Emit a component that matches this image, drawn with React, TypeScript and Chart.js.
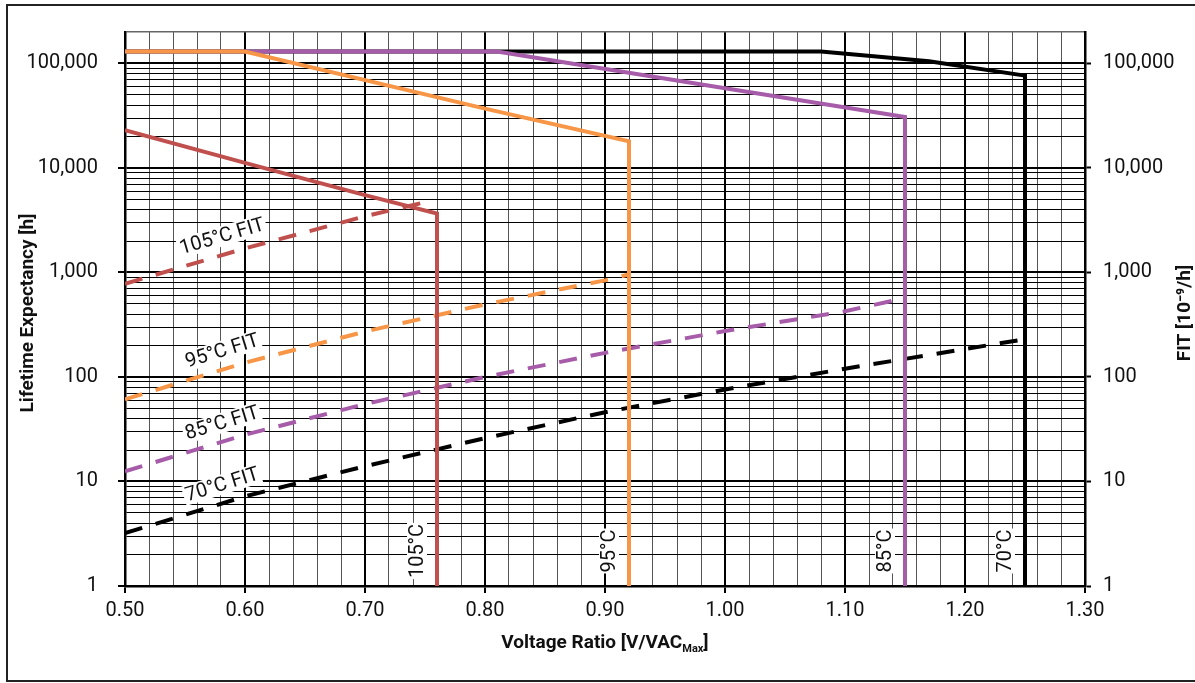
import React, { useEffect, useRef } from 'react';
import { Chart, registerables } from 'chart.js';

Chart.register(...registerables);

// ---------- axis ranges ----------
const X_MIN = 0.5;
const X_MAX = 1.3;
const X_STEP = 0.02;
const Y_MIN = 1;
const Y_MAX = 200000;

// ---------- lifetime expectancy (solid, left axis) ----------
const life105X = [0.5, 0.6, 0.7, 0.76, 0.76];
const life105Y = [23000, 11200, 5500, 3670, 1];
const life95X = [0.5, 0.6, 0.8, 0.92, 0.92];
const life95Y = [130000, 130000, 37000, 18000, 1];
const life85X = [0.5, 0.81, 1.0, 1.15, 1.15];
const life85Y = [130000, 130000, 58000, 30700, 1];
const life70X = [0.5, 1.08, 1.17, 1.25, 1.25];
const life70Y = [130000, 130000, 105000, 76500, 1];

// ---------- FIT (dashed, right axis) ----------
const fit105X = [0.5, 0.6, 0.7, 0.75];
const fit105Y = [780, 1700, 3450, 4700];
const fit95X = [0.5, 0.6, 0.7, 0.8, 0.9, 0.92];
const fit95Y = [61, 137, 272, 495, 840, 960];
const fit85X = [0.5, 0.6, 0.7, 0.8, 0.9, 1.0, 1.1, 1.15];
const fit85Y = [12.5, 28, 55, 100, 170, 275, 425, 570];
const fit70X = [0.5, 0.6, 0.7, 0.8, 0.9, 1.0, 1.1, 1.2, 1.25];
const fit70Y = [3.2, 7.2, 14, 26, 46, 76, 120, 185, 230];

// ---------- texts ----------
const tempLabels = ['105°C', '95°C', '85°C', '70°C'];
const fitLabels = ['105°C FIT', '95°C FIT', '85°C FIT', '70°C FIT'];
const yTitle = 'Lifetime Expectancy [h]';
const y2Title = 'FIT [10⁻⁹/h]';
const xTitleMain = 'Voltage Ratio [V/VAC';
const xTitleSub = 'Max';
const xTitleEnd = ']';

// ---------- colours ----------
const colors = ['#C0504D', '#F79646', '#A65CA9', '#000000'];

const lifeX = [life105X, life95X, life85X, life70X];
const lifeY = [life105Y, life95Y, life85Y, life70Y];
const fitX = [fit105X, fit95X, fit85X, fit70X];
const fitY = [fit105Y, fit95Y, fit85Y, fit70Y];

const pts = (xs: number[], ys: number[]) => xs.map((x, i) => ({ x, y: ys[i] }));

const isDecade = (v: number) => Math.abs(Math.log10(v) - Math.round(Math.log10(v))) < 1e-9;
const isMajorX = (v: number) => Math.abs(v * 10 - Math.round(v * 10)) < 1e-6;

const yTickValues: number[] = [];
for (let e = 0; e <= 5; e++) {
  for (let m = 1; m <= 9; m++) {
    const v = m * Math.pow(10, e);
    if (v <= Y_MAX) yTickValues.push(v);
  }
}

const FONT = 'Roboto, "Noto Sans", sans-serif';

const annotate = {
  id: 'annotate',
  afterDatasetsDraw(chart: any) {
    const { ctx } = chart;
    const x = chart.scales.x;
    ctx.save();
    ctx.font = `20px ${FONT}`;
    ctx.textAlign = 'center';
    ctx.textBaseline = 'middle';
    // vertical temperature labels
    tempLabels.forEach((t, i) => {
      const xs = lifeX[i];
      const px = x.getPixelForValue(xs[xs.length - 1]) - 20;
      const py = 551;
      ctx.save();
      ctx.translate(px, py);
      ctx.rotate(-Math.PI / 2);
      const w = ctx.measureText(t).width;
      ctx.fillStyle = '#fff';
      ctx.fillRect(-w / 2 - 1, -10, w + 2, 20);
      ctx.fillStyle = '#111';
      ctx.fillText(t, 0, 1);
      ctx.restore();
    });
    // FIT labels along dashed lines
    const anchorX = 222;
    fitLabels.forEach((t, i) => {
      const meta = chart.getDatasetMeta(4 + i);
      const d = meta.data;
      let k = 0;
      while (k < d.length - 2 && d[k + 1].x < anchorX) k++;
      const p0 = d[k], p1 = d[k + 1];
      const f = (anchorX - p0.x) / (p1.x - p0.x);
      const ly = p0.y + f * (p1.y - p0.y);
      const ang = Math.atan2(p1.y - p0.y, p1.x - p0.x);
      ctx.save();
      ctx.translate(anchorX, ly - 19);
      ctx.rotate(ang);
      const w = ctx.measureText(t).width;
      ctx.fillStyle = '#fff';
      ctx.fillRect(-w / 2 - 2, -10, w + 4, 20);
      ctx.fillStyle = '#111';
      ctx.fillText(t, 0, 1);
      ctx.restore();
    });
    ctx.restore();
  },
  afterDraw(chart: any) {
    const { ctx, chartArea } = chart;
    ctx.save();
    ctx.fillStyle = '#111';
    ctx.font = `bold 19px ${FONT}`;
    ctx.textAlign = 'center';
    ctx.textBaseline = 'middle';
    const cy = (chartArea.top + chartArea.bottom) / 2 + 4;
    // left title
    ctx.save();
    ctx.translate(28, cy);
    ctx.rotate(-Math.PI / 2);
    ctx.fillText(yTitle, 0, 0);
    ctx.restore();
    // right title
    ctx.save();
    ctx.translate(1185, cy);
    ctx.rotate(-Math.PI / 2);
    ctx.fillText(y2Title, 0, 0);
    ctx.restore();
    // bottom title with subscript
    ctx.textAlign = 'left';
    ctx.textBaseline = 'alphabetic';
    const mainFont = `bold 19px ${FONT}`;
    const subFont = `bold 11px ${FONT}`;
    ctx.font = mainFont;
    const w1 = ctx.measureText(xTitleMain).width;
    const w3 = ctx.measureText(xTitleEnd).width;
    ctx.font = subFont;
    const w2 = ctx.measureText(xTitleSub).width;
    const total = w1 + w2 + w3;
    const cx = (chartArea.left + chartArea.right) / 2;
    let sx = cx - total / 2;
    const base = 648;
    ctx.font = mainFont;
    ctx.fillText(xTitleMain, sx, base);
    sx += w1;
    ctx.font = subFont;
    ctx.fillText(xTitleSub, sx, base + 4);
    sx += w2;
    ctx.font = mainFont;
    ctx.fillText(xTitleEnd, sx, base);
    // outer frame
    ctx.strokeStyle = '#222';
    ctx.lineWidth = 2;
    ctx.strokeRect(7, 5, 1200, 676);
    ctx.restore();
  },
};

export default function App() {
  const ref = useRef<HTMLCanvasElement>(null);
  useEffect(() => {
    const canvas = ref.current!;
    const solid = (i: number) => ({
      data: pts(lifeX[i], lifeY[i]),
      borderColor: colors[i],
      borderWidth: 4,
      pointRadius: 0,
      fill: false,
      tension: 0,
      borderJoinStyle: 'miter' as const,
      yAxisID: 'y',
    });
    const dashed = (i: number) => ({
      data: pts(fitX[i], fitY[i]),
      borderColor: colors[i],
      borderWidth: 4,
      borderDash: [18, 14],
      pointRadius: 0,
      fill: false,
      tension: 0,
      yAxisID: 'y2',
    });
    const tickFont = { family: FONT, size: 20 };
    const chart = new Chart(canvas, {
      type: 'line',
      data: {
        datasets: [solid(0), solid(1), solid(2), solid(3), dashed(0), dashed(1), dashed(2), dashed(3)],
      },
      options: {
        responsive: false,
        animation: false,
        layout: { padding: { top: 29, left: 0, right: 0, bottom: 0 } },
        plugins: { legend: { display: false }, tooltip: { enabled: false } },
        scales: {
          x: {
            type: 'linear',
            min: X_MIN,
            max: X_MAX,
            ticks: {
              stepSize: X_STEP,
              autoSkip: false,
              maxRotation: 0,
              padding: 6,
              color: '#111',
              font: tickFont,
              callback: (v: any) => (isMajorX(Number(v)) ? Number(v).toFixed(2) : ''),
            },
            grid: {
              color: (c: any) => (isMajorX(c.tick.value) ? '#000' : '#555'),
              lineWidth: (c: any) => (isMajorX(c.tick.value) ? 2 : 1),
              tickColor: (c: any) => (isMajorX(c.tick.value) ? '#000' : 'rgba(0,0,0,0)'),
              tickLength: 7,
              tickWidth: 2,
            },
            border: { color: '#000', width: 2.5 },
            afterFit: (s: any) => {
              s.height = 97;
            },
          },
          y: {
            type: 'logarithmic',
            position: 'left',
            min: Y_MIN,
            max: Y_MAX,
            afterBuildTicks: (s: any) => {
              s.ticks = yTickValues.map((v) => ({ value: v }));
            },
            ticks: {
              autoSkip: false,
              padding: 20,
              color: '#111',
              font: tickFont,
              callback: (v: any) => (isDecade(Number(v)) ? Number(v).toLocaleString('en-US') : ''),
            },
            grid: {
              color: (c: any) => (c.tick.value >= Y_MAX ? '#666' : '#000'),
              lineWidth: (c: any) => (isDecade(c.tick.value) ? 2 : c.tick.value >= Y_MAX ? 1.5 : 1),
              tickColor: (c: any) => (isDecade(c.tick.value) ? '#000' : 'rgba(0,0,0,0)'),
              tickLength: 7,
              tickWidth: 2,
            },
            border: { color: '#000', width: 2.5 },
            afterFit: (s: any) => {
              s.width = 125;
            },
          },
          y2: {
            type: 'logarithmic',
            position: 'right',
            min: Y_MIN,
            max: Y_MAX,
            afterBuildTicks: (s: any) => {
              s.ticks = yTickValues.map((v) => ({ value: v }));
            },
            ticks: {
              autoSkip: false,
              padding: 12,
              color: '#111',
              font: tickFont,
              callback: (v: any) => (isDecade(Number(v)) ? Number(v).toLocaleString('en-US') : ''),
            },
            grid: {
              drawOnChartArea: false,
              tickColor: (c: any) => (isDecade(c.tick.value) ? '#000' : 'rgba(0,0,0,0)'),
              tickLength: 6,
              tickWidth: 2,
            },
            border: { color: '#000', width: 2.5 },
            afterFit: (s: any) => {
              s.width = 110;
            },
          },
        },
      },
      plugins: [annotate],
    } as any);
    return () => chart.destroy();
  }, []);
  return (
    <div style={{ position: 'fixed', left: 0, top: 0, width: 1195, height: 683, background: '#fff' }}>
      <canvas ref={ref} width={1195} height={683} style={{ display: 'block', width: 1195, height: 683 }} />
    </div>
  );
}
